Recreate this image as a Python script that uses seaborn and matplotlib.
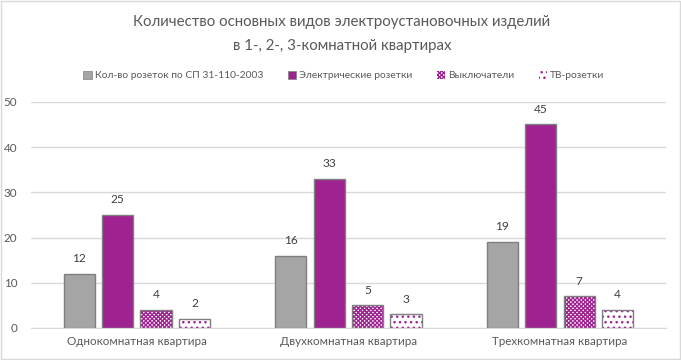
import pandas as pd
import numpy as np
import matplotlib.pyplot as plt
import seaborn as sns
from matplotlib.patches import Rectangle

flats = ['Однокомнатная квартира', 'Двухкомнатная квартира', 'Трехкомнатная квартира']
series = ['Кол-во розеток по СП 31-110-2003', 'Электрические розетки', 'Выключатели', 'ТВ-розетки']
norm_sockets = [12, 16, 19]
el_sockets = [25, 33, 45]
switches = [4, 5, 7]
tv_sockets = [2, 3, 4]

purple = '#9E2390'
gray = '#A5A5A5'
edge = '#7F7F7F'

df = pd.DataFrame({
    'flat': flats * 4,
    'kind': np.repeat(series, 3),
    'count': norm_sockets + el_sockets + switches + tv_sockets,
})

sns.set_style('white')
plt.rcParams['font.family'] = ['Lato', 'DejaVu Sans']
plt.rcParams['hatch.linewidth'] = 1.0

fig = plt.figure(figsize=(6.81, 3.6), dpi=100)
ax = fig.add_axes([0.0455, 0.089, 0.932, 0.628])
sns.barplot(data=df, x='flat', y='count', hue='kind', order=flats, hue_order=series,
            palette=[gray, purple, 'white', 'white'], saturation=1, width=0.727, gap=0.19,
            edgecolor=edge, linewidth=1, ax=ax, legend=False)

hatches = [None, None, 'xxxxxxxx', '...']
for cont, h in zip(ax.containers, hatches):
    for p in cont.patches:
        if h:
            p.set_hatch(h)
            p.set_edgecolor(purple)
            p.set_linewidth(0)
            ax.add_patch(Rectangle((p.get_x(), p.get_y()), p.get_width(), p.get_height(),
                                   fill=False, edgecolor=edge, linewidth=1, zorder=p.get_zorder() + 0.1))
    ax.bar_label(cont, padding=7, fontsize=8.6, color='#404040')

ax.set_ylim(0, 50)
ax.set_yticks(range(0, 51, 10))
ax.yaxis.grid(True, color='#D9D9D9', linewidth=1)
ax.set_axisbelow(True)
for s in ['top', 'right', 'left']:
    ax.spines[s].set_visible(False)
ax.spines['bottom'].set_color('#D9D9D9')
ax.tick_params(axis='both', length=0, labelsize=8.4, colors='#595959')
ax.tick_params(axis='y', pad=10)
ax.tick_params(axis='x', pad=6)
ax.set_xlabel('')
ax.set_ylabel('')

handles = []
for cont, h in zip(ax.containers, hatches):
    p = cont.patches[0]
    if h:
        handles.append(Rectangle((0, 0), 1, 1, facecolor='white', edgecolor=purple, hatch=h, linewidth=0))
    else:
        handles.append(Rectangle((0, 0), 1, 1, facecolor=p.get_facecolor(), edgecolor=edge, linewidth=0.5))
fig.legend(handles, series, loc='center', bbox_to_anchor=(0.505, 0.79), ncol=4, frameon=False,
           fontsize=7.4, labelcolor='#595959', handlelength=0.8, handleheight=0.8,
           handletextpad=0.3, columnspacing=2.4)

title_lines = ['Количество основных видов электроустановочных изделий',
               'в 1-, 2-, 3-комнатной квартирах']
fig.text(0.502, 1 - 22 / 360, title_lines[0], ha='center', va='center', fontsize=10.8, color='#595959')
fig.text(0.502, 1 - 46 / 360, title_lines[1], ha='center', va='center', fontsize=10.8, color='#595959')

fig.add_artist(Rectangle((0.001, 0.002), 0.997, 0.995, transform=fig.transFigure,
                         fill=False, edgecolor='#D9D9D9', linewidth=1))

fig.savefig('out.png', dpi=100)
